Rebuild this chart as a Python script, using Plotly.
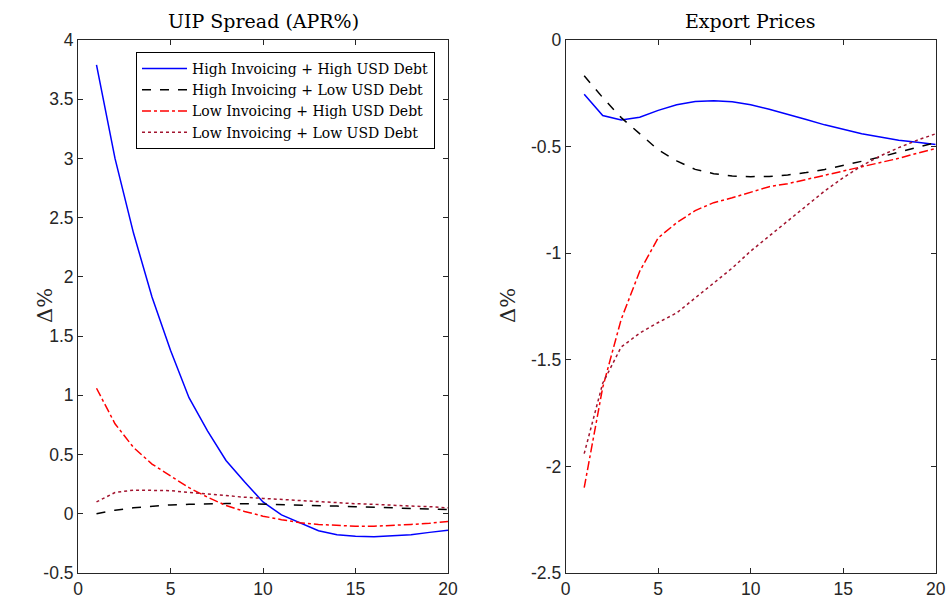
import plotly.graph_objects as go
from plotly.subplots import make_subplots

x = list(range(1, 21))

# UIP Spread (APR%)
uip_hh = [3.79, 3.00, 2.37, 1.83, 1.38, 0.98, 0.70, 0.45, 0.27, 0.10,
          -0.01, -0.08, -0.143, -0.177, -0.19, -0.194, -0.187, -0.177, -0.157, -0.14]
uip_hl = [0.0, 0.03, 0.05, 0.065, 0.075, 0.08, 0.085, 0.086, 0.085, 0.082,
          0.078, 0.074, 0.070, 0.065, 0.060, 0.055, 0.050, 0.045, 0.040, 0.035]
uip_lh = [1.06, 0.76, 0.56, 0.42, 0.32, 0.22, 0.14, 0.07, 0.02, -0.02,
          -0.05, -0.075, -0.09, -0.10, -0.105, -0.105, -0.10, -0.09, -0.08, -0.065]
uip_ll = [0.10, 0.18, 0.20, 0.20, 0.195, 0.18, 0.165, 0.15, 0.14, 0.13,
          0.12, 0.11, 0.10, 0.095, 0.085, 0.08, 0.07, 0.065, 0.06, 0.05]

# Export Prices
exp_hh = [-0.254, -0.354, -0.375, -0.362, -0.33, -0.304, -0.288, -0.285, -0.29, -0.304,
          -0.325, -0.348, -0.373, -0.398, -0.42, -0.44, -0.455, -0.47, -0.48, -0.49]
exp_hl = [-0.168, -0.27, -0.364, -0.44, -0.515, -0.567, -0.607, -0.627, -0.638, -0.641,
          -0.64, -0.633, -0.622, -0.607, -0.589, -0.569, -0.549, -0.527, -0.505, -0.481]
exp_lh = [-2.10, -1.63, -1.31, -1.085, -0.928, -0.857, -0.80, -0.763, -0.74, -0.713,
          -0.688, -0.674, -0.654, -0.633, -0.614, -0.594, -0.575, -0.555, -0.531, -0.509]
exp_ll = [-1.94, -1.61, -1.44, -1.375, -1.325, -1.28, -1.21, -1.14, -1.07, -0.99,
          -0.92, -0.85, -0.78, -0.708, -0.646, -0.59, -0.544, -0.505, -0.47, -0.44]

names = ["High Invoicing + High USD Debt", "High Invoicing + Low USD Debt",
         "Low Invoicing + High USD Debt", "Low Invoicing + Low USD Debt"]
colors = ["#0000FF", "#000000", "#FF0000", "#A2142F"]
dashes = ["solid", "dash", "dashdot", "dot"]

W, H = 948, 602
left_x0, left_x1 = 78 / W, 448 / W
right_x0, right_x1 = 565.7 / W, 935.7 / W
y0, y1 = (H - 573) / H, (H - 40) / H

fig = make_subplots(rows=1, cols=2)

for i, ys in enumerate([uip_hh, uip_hl, uip_lh, uip_ll]):
    fig.add_trace(go.Scatter(x=x, y=ys, mode="lines", name=names[i],
                             line=dict(color=colors[i], dash=dashes[i], width=1.5),
                             showlegend=True), row=1, col=1)
for i, ys in enumerate([exp_hh, exp_hl, exp_lh, exp_ll]):
    fig.add_trace(go.Scatter(x=x, y=ys, mode="lines", name=names[i],
                             line=dict(color=colors[i], dash=dashes[i], width=1.5),
                             showlegend=False), row=1, col=2)

axis_common = dict(showgrid=False, zeroline=False, showline=True, linecolor="#262626",
                   linewidth=1, mirror="ticks", ticks="inside", ticklen=5,
                   tickcolor="#262626", automargin=False,
                   tickfont=dict(family="Liberation Sans, Arial", size=17.5, color="#262626"))

fig.update_xaxes(**axis_common, range=[0, 20], tickvals=[0, 5, 10, 15, 20])
fig.update_xaxes(domain=[left_x0, left_x1], row=1, col=1)
fig.update_xaxes(domain=[right_x0, right_x1], row=1, col=2)
fig.update_yaxes(**axis_common)
fig.update_yaxes(domain=[y0, y1], range=[-0.5, 4],
                 tickvals=[-0.5, 0, 0.5, 1, 1.5, 2, 2.5, 3, 3.5, 4],
                 ticktext=["-0.5", "0", "0.5", "1", "1.5", "2", "2.5", "3", "3.5", "4"],
                 row=1, col=1)
fig.update_yaxes(domain=[y0, y1], range=[-2.5, 0],
                 tickvals=[-2.5, -2, -1.5, -1, -0.5, 0],
                 ticktext=["-2.5", "-2", "-1.5", "-1", "-0.5", "0"],
                 row=1, col=2)

title_font = dict(family="DejaVu Serif, serif", size=19, color="#000000")
fig.add_annotation(text="UIP Spread (APR%)", xref="paper", yref="paper",
                   x=(left_x0 + left_x1) / 2, y=(H - 21) / H, showarrow=False,
                   xanchor="center", yanchor="middle", font=title_font)
fig.add_annotation(text="Export Prices", xref="paper", yref="paper",
                   x=(right_x0 + right_x1) / 2, y=(H - 21) / H, showarrow=False,
                   xanchor="center", yanchor="middle", font=title_font)

ylab_font = dict(family="DejaVu Serif, serif", size=21, color="#262626")
for xc in [45, 508]:
    fig.add_annotation(text="Δ%", xref="paper", yref="paper",
                       x=xc / W, y=(H - 306) / H, showarrow=False, textangle=-90,
                       xanchor="center", yanchor="middle", font=ylab_font)

fig.update_layout(
    width=W, height=H,
    margin=dict(l=0, r=0, t=0, b=0),
    paper_bgcolor="white", plot_bgcolor="white",
    showlegend=True,
    legend=dict(x=435 / W, y=(H - 52) / H, xanchor="right", yanchor="top",
                bgcolor="white", bordercolor="#000000", borderwidth=1,
                font=dict(family="DejaVu Serif, serif", size=14, color="#000000"),
                itemwidth=45, tracegroupgap=0),
)

fig.write_html("out.html")
